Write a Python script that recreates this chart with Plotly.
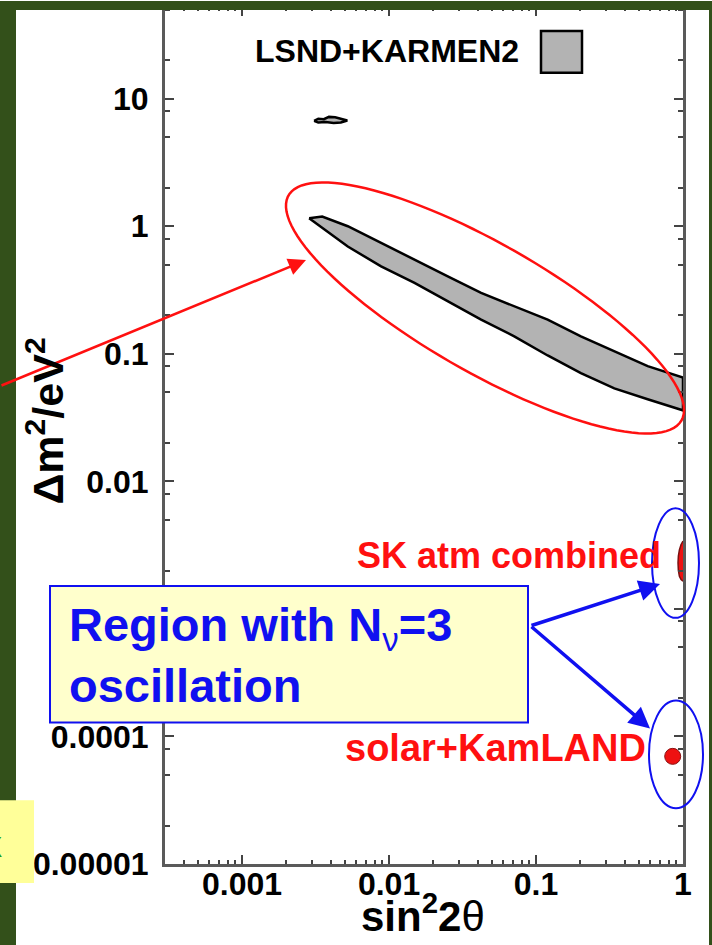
import numpy as np
import plotly.graph_objects as go

# ---------------- data (sin^2 2theta , delta m^2 in eV^2) ----------------
lsnd_upper_x = [0.00286, 0.00351, 0.00524, 0.00883, 0.0149, 0.0251, 0.0423, 0.0711, 0.120, 0.202, 0.341, 0.575, 1.0]
lsnd_upper_y = [1.155, 1.19, 1.0, 0.737, 0.546, 0.405, 0.300, 0.236, 0.185, 0.137, 0.105, 0.080, 0.065]
lsnd_lower_x = [1.0, 0.575, 0.341, 0.202, 0.120, 0.0711, 0.0423, 0.0149, 0.00883, 0.00524, 0.00302]
lsnd_lower_y = [0.036, 0.044, 0.0535, 0.0705, 0.097, 0.137, 0.185, 0.359, 0.484, 0.694, 1.09]

island_x = [0.00309, 0.0033, 0.0036, 0.0039, 0.0043, 0.0047, 0.0052, 0.0047, 0.0042, 0.0037, 0.0033]
island_y = [6.7, 6.95, 6.9, 7.2, 7.15, 7.0, 6.75, 6.5, 6.45, 6.55, 6.5]

sk_x = [1.0, 0.97, 0.945, 0.93, 0.925, 0.93, 0.945, 0.97, 1.0]
sk_y = [0.0034, 0.0032, 0.0029, 0.0026, 0.0023, 0.0020, 0.0018, 0.0017, 0.00165]

solar_x = [0.851]
solar_y = [6.98e-5]

x_tickvals = [0.001, 0.01, 0.1, 1]
x_ticktext = ["0.001", "0.01", "0.1", "1"]
# the 0.001 label sits behind the call-out box, so it is left blank
y_tickvals = [1e-5, 1e-4, 1e-3, 1e-2, 0.1, 1, 10]
y_ticktext = ["0.00001", "0.0001", "", "0.01", "0.1", "1", "10"]

x_minor = [m * 10.0 ** e for e in range(-4, 0) for m in range(2, 10)]
y_minor = [m * 10.0 ** e for e in range(-5, 2) for m in (2, 5, 8)]

# ---------------- geometry helpers for slide decorations ----------------
W, H = 712, 945
PL, PR, PT, PB = 165, 683, 4, 864


def px(x):
    return (x - PL) / (PR - PL)


def py(y):
    return (PB - y) / (PB - PT)


FONT = "Liberation Sans, Arial, sans-serif"
GREEN = "#33501a"
BLUE = "#1010f0"
RED = "#ff1010"

fig = go.Figure()

# LSND+KARMEN2 allowed band
fig.add_trace(go.Scatter(
    x=lsnd_upper_x + lsnd_lower_x + [lsnd_upper_x[0]],
    y=lsnd_upper_y + lsnd_lower_y + [lsnd_upper_y[0]],
    mode="lines", fill="toself", fillcolor="#b3b3b3",
    line=dict(color="black", width=2.5), hoverinfo="skip", showlegend=False))

fig.add_trace(go.Scatter(
    x=island_x + [island_x[0]], y=island_y + [island_y[0]],
    mode="lines", fill="toself", fillcolor="#b3b3b3",
    line=dict(color="black", width=2.5), hoverinfo="skip", showlegend=False))

# SK atmospheric region
fig.add_trace(go.Scatter(
    x=sk_x, y=sk_y, mode="lines", fill="toself", fillcolor="#ee1111",
    line=dict(color="#7a1010", width=1.5), hoverinfo="skip", showlegend=False))

# solar + KamLAND region
fig.add_trace(go.Scatter(
    x=solar_x, y=solar_y, mode="markers",
    marker=dict(size=16, color="#ee1111", line=dict(color="#8a1010", width=1)),
    hoverinfo="skip", showlegend=False))

axis_common = dict(
    type="log", showline=True, linecolor="#5a5a5a", linewidth=3,
    mirror="ticks", ticks="inside", ticklen=9, tickwidth=2, tickcolor="#444",
    showgrid=False, zeroline=False,
    tickfont=dict(family=FONT, size=32, color="black", weight=700),
)

fig.update_xaxes(
    **axis_common, range=[np.log10(0.000299), 0],
    tickmode="array", tickvals=x_tickvals, ticktext=x_ticktext,
    minor=dict(tickmode="array", tickvals=x_minor, ticks="inside",
               ticklen=4, tickwidth=2, tickcolor="#444"),
    ticklabelstandoff=-10,
)
fig.update_yaxes(
    **axis_common, range=[-5, 1 + (96 - PT) / 128.0],
    tickmode="array", tickvals=y_tickvals, ticktext=y_ticktext,
    minor=dict(tickmode="array", tickvals=y_minor, ticks="inside",
               ticklen=5, tickwidth=2, tickcolor="#444"),
    ticklabelstandoff=7,
)

shapes = []
ann = []


def label(text, x, y, size, color="black", xa="center", ya="middle", **kw):
    ann.append(dict(text=text, xref="paper", yref="paper", x=px(x), y=py(y),
                    xanchor=xa, yanchor=ya, showarrow=False,
                    font=dict(family=FONT, size=size, color=color), **kw))


# red ellipse around the LSND band
cx, cy, a, b, phi = 485, 306, 226.6, 64.3, np.radians(29.9)
t = np.linspace(0, 2 * np.pi, 120)
ex = cx + a * np.cos(t) * np.cos(phi) - b * np.sin(t) * np.sin(phi)
ey = cy + a * np.cos(t) * np.sin(phi) + b * np.sin(t) * np.cos(phi)
path = "M " + " L ".join(f"{px(u):.5f},{py(v):.5f}" for u, v in zip(ex, ey)) + " Z"
shapes.append(dict(type="path", xref="paper", yref="paper", path=path,
                   line=dict(color=RED, width=2.5), layer="above"))

# blue ellipses on the right
for (x0, x1, y0, y1) in [(652, 699, 507, 617), (649, 703, 700, 808)]:
    shapes.append(dict(type="circle", xref="paper", yref="paper",
                       x0=px(x0), x1=px(x1), y0=py(y1), y1=py(y0),
                       line=dict(color=BLUE, width=2), layer="above"))

# legend swatch
shapes.append(dict(type="rect", xref="paper", yref="paper",
                   x0=px(541), x1=px(582), y0=py(70), y1=py(28),
                   fillcolor="#b3b3b3", line=dict(color="black", width=2.5), layer="above"))
label("<b>LSND+KARMEN2</b>", 387, 48, 32)

# yellow call-out box
shapes.append(dict(type="rect", xref="paper", yref="paper",
                   x0=px(50), x1=px(528), y0=py(722), y1=py(585),
                   fillcolor="#ffffcc", line=dict(color=BLUE, width=2), layer="above"))
label("<b>Region with N</b><sub>ν</sub><b>=3</b><br><b>oscillation</b>",
      67, 654, 47, color=BLUE, xa="left", align="left")

# red labels
label("<b>SK atm combined</b>", 663, 554, 36, color=RED, xa="right")
label("<b>solar+KamLAND</b>", 648, 748, 38, color=RED, xa="right")

# arrows
ann.append(dict(text="", xref="paper", yref="paper", x=px(306), y=py(258),
                ax=-316, ay=126, showarrow=True, arrowhead=2, arrowsize=1.4,
                arrowwidth=2.5, arrowcolor=RED, standoff=0))
for tip in [(660, 583), (650, 728)]:
    ann.append(dict(text="", xref="paper", yref="paper", x=px(tip[0]), y=py(tip[1]),
                    ax=530 - tip[0], ay=625 - tip[1], showarrow=True, arrowhead=2,
                    arrowsize=1.2, arrowwidth=3.5, arrowcolor=BLUE, standoff=0))

# axis titles
label("<b>Δm<sup>2</sup>/eV<sup>2</sup></b>", 45, 420, 43, textangle=-90)
label("<b>sin</b><sup><b>2</b></sup><b>2</b>θ", 423, 913, 42)

# slide frame: green border strips and a small yellow tab
shapes.append(dict(type="rect", xref="paper", yref="paper",
                   x0=px(0), x1=px(W), y0=py(7), y1=py(-2),
                   fillcolor=GREEN, line=dict(width=0), layer="above"))
shapes.append(dict(type="rect", xref="paper", yref="paper",
                   x0=px(-2), x1=px(16), y0=py(H + 2), y1=py(0),
                   fillcolor=GREEN, line=dict(width=0), layer="above"))
shapes.append(dict(type="rect", xref="paper", yref="paper",
                   x0=px(709), x1=px(W + 2), y0=py(H + 2), y1=py(0),
                   fillcolor=GREEN, line=dict(width=0), layer="above"))
shapes.append(dict(type="rect", xref="paper", yref="paper",
                   x0=px(-2), x1=px(34), y0=py(883), y1=py(800),
                   fillcolor="#ffff99", line=dict(width=0), layer="above"))
label("<b>X</b>", 4, 846, 30, color="#1a9a1a", xa="right")

fig.update_layout(
    width=W, height=H,
    margin=dict(l=PL, r=W - PR, t=PT, b=H - PB),
    paper_bgcolor="white", plot_bgcolor="white",
    shapes=shapes, annotations=ann, showlegend=False,
)

fig.write_html("out.html")
